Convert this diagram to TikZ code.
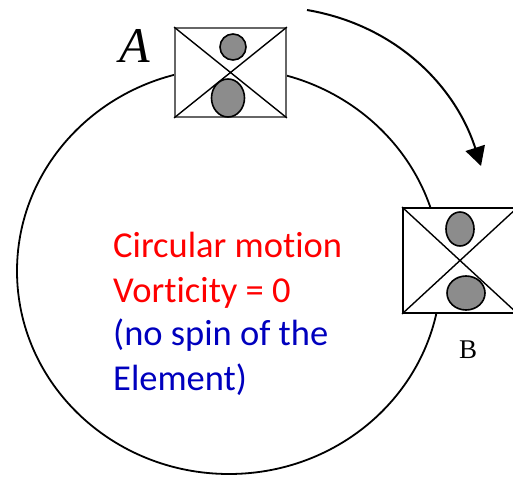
\documentclass[tikz,border=0pt]{standalone}
\usepackage{fontspec}
\setmainfont{Carlito}[Ligatures=NoCommon]
\newfontfamily\timesfont{Liberation Serif}
\usetikzlibrary{positioning, arrows.meta}
\definecolor{dotgray}{RGB}{140,140,140}
\definecolor{textblue}{RGB}{0,0,190}

\begin{document}
\begin{tikzpicture}[x=1pt, y=-1pt,
        element/.style={rectangle, draw, fill=white, line width=1.8pt, inner sep=0pt},
        blob/.style={draw, fill=dotgray, line width=1.6pt},
        caption/.style={anchor=base west, inner sep=0pt, font=\fontsize{36.5}{42}\selectfont}
    ]
    \useasboundingbox (0,0) rectangle (513,476);
    % path of the element
    \draw[line width=1.8pt] (229,271) ellipse [x radius=212pt, y radius=203pt];

    % element at A
    \node[element, draw=black!60, minimum width=111, minimum height=89] (boxA) at (230.5,72.5) {};
    \draw[line width=1.4pt] (boxA.north west) -- (boxA.south east)
        (boxA.south west) -- (boxA.north east);
    \draw[blob] (233,47) circle [radius=13pt];
    \draw[blob] (228,98) ellipse [x radius=16.5pt, y radius=19pt];
    \node[font=\timesfont\itshape\fontsize{50}{50}\selectfont, anchor=base, inner sep=0pt] (labA) at (135,63) {A};

    % element at B
    \node[element, draw=black, minimum width=114, minimum height=105] (boxB) at (460,260.5) {};
    \draw[line width=1.4pt] (boxB.north west) -- (boxB.south east)
        (boxB.south west) -- (boxB.north east);
    \draw[blob] (460,229) ellipse [x radius=14pt, y radius=17pt];
    \draw[blob] (466,293) ellipse [x radius=19pt, y radius=17pt];
    \node[font=\timesfont\fontsize{27}{27}\selectfont, anchor=base, inner sep=0pt] (labB) at (468,358) {B};

    % direction of motion
    \coordinate (arrS) at (307,10);
    \coordinate (arrE) at (481,166);
    \draw[line width=2pt, -{Triangle[length=19pt, width=20pt]}] (arrS) .. controls (395,25) and (455,85) .. (arrE);

    \node[caption, text=red] (l1) at (113,257) {Circular motion};
    \node[caption, text=red] (l2) at (113,302) {Vorticity = 0};
    \node[caption, text=textblue] (l3) at (113,345) {(no spin of the};
    \node[caption, text=textblue] (l4) at (113,390) {Element)};
\end{tikzpicture}
\end{document}
